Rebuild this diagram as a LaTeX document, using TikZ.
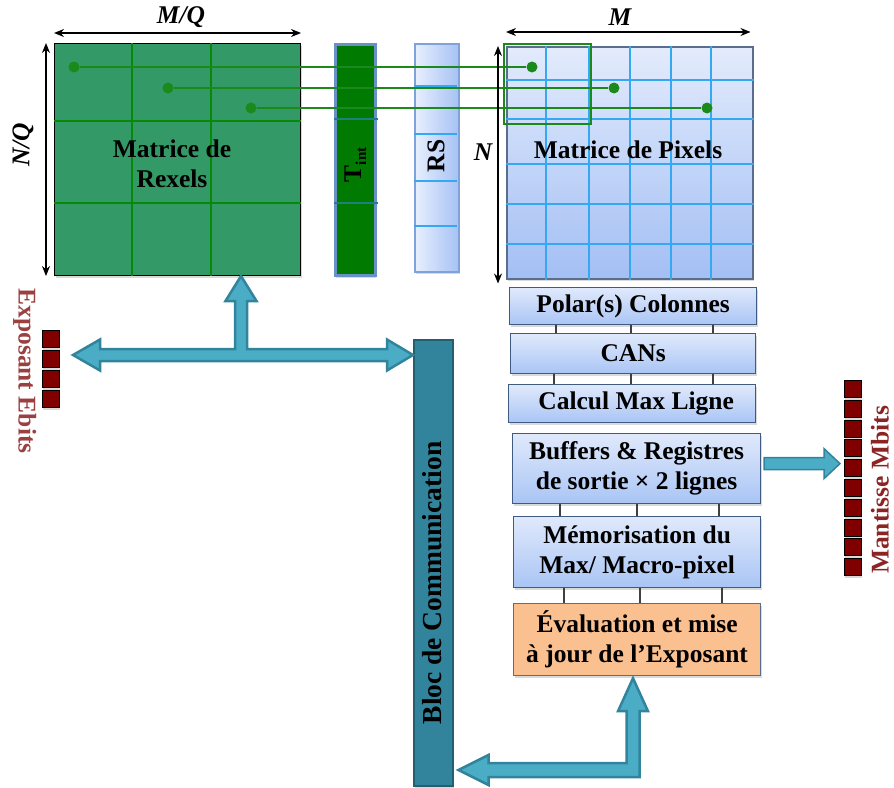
\documentclass[tikz,border=0pt]{standalone}
\usepackage{fontspec}
\setmainfont{Liberation Serif}
\usetikzlibrary{arrows.meta, calc, shadows}
\definecolor{rexGreen}{HTML}{339966}
\definecolor{gridGreen}{HTML}{068A06}
\definecolor{sigGreen}{HTML}{1B8A1B}
\definecolor{tintGreen}{HTML}{007A00}
\definecolor{tintEdge}{HTML}{6A90C8}
\definecolor{tealLine}{HTML}{1F8080}
\definecolor{rsLeft}{HTML}{E8EFFD}
\definecolor{rsRight}{HTML}{A6C2F4}
\definecolor{rsEdge}{HTML}{7FA3D9}
\definecolor{pixTop}{HTML}{E3EBFC}
\definecolor{pixBot}{HTML}{A3BFF4}
\definecolor{pixGrid}{HTML}{35A8F2}
\definecolor{pixEdge}{HTML}{5A6E8C}
\definecolor{boxTop}{HTML}{E0E9FB}
\definecolor{boxBot}{HTML}{A9C5F5}
\definecolor{boxEdge}{HTML}{3F5B82}
\definecolor{evalFill}{HTML}{FAC090}
\definecolor{blocFill}{HTML}{31849B}
\definecolor{blocEdge}{HTML}{23606F}
\definecolor{busFill}{HTML}{4BACC6}
\definecolor{busEdge}{HTML}{31849B}
\definecolor{bitRed}{HTML}{800000}
\definecolor{expoRed}{HTML}{9B4040}
\definecolor{mantRed}{HTML}{8B2525}

\begin{document}
\begin{tikzpicture}[x=1pt, y=-1pt,
  font=\fontsize{25.5}{30}\selectfont\bfseries,
  shad/.style={drop shadow={shadow xshift=1pt, shadow yshift=-2.5pt, opacity=0.3}},
  mat/.style={anchor=north west, inner sep=0pt, shad},
  blk/.style={mat, draw=boxEdge, line width=1.2pt, top color=boxTop, bottom color=boxBot,
              align=center},
  rexgrid/.style={draw=gridGreen, line width=2pt},
  pixgrid/.style={draw=pixGrid, line width=1.5pt},
  dimarrow/.style={{Stealth[length=10pt,width=8pt]}-{Stealth[length=10pt,width=8pt]},
                   line width=1.2pt},
  sig/.style={draw=sigGreen, line width=2.2pt},
  dot/.style={circle, fill=sigGreen, inner sep=0pt, minimum size=11pt},
  bitsq/.style={draw=black, line width=0.8pt, fill=bitRed, minimum size=17pt,
                inner sep=0pt, anchor=north west, shad},
  bus/.style={draw=busEdge, line width=2.5pt, fill=busFill, line join=miter},
  link/.style={draw=black!75, line width=1.2pt},
  lbl/.style={inner sep=0pt},
]
\useasboundingbox (0,0) rectangle (894,787);

% matrices and bars
\node[mat, draw=black, line width=1pt, fill=rexGreen, minimum width=246, minimum height=232] (rexels) at (54,43) {};
\foreach \x in {132,211} \draw[rexgrid] (\x,0 |- rexels.north) -- (\x,0 |- rexels.south);
\foreach \y in {121,203} \draw[rexgrid] (rexels.west |- 0,\y) -- (rexels.east |- 0,\y);
\node[lbl, align=center] at (172,164) {Matrice de\\Rexels};

\node[mat, draw=tintEdge, line width=2.5pt, fill=tintGreen, minimum width=40, minimum height=231] (tint) at (334,43) {};
\foreach \y in {119,203} \draw[draw=tealLine, line width=2pt] (tint.west |- 0,\y) -- ([xshift=1pt]tint.east |- 0,\y);
\node[lbl, rotate=90] at ([yshift=-5pt]tint.center) {T\raisebox{-5pt}{\fontsize{15}{15}\selectfont int}};

\node[mat, draw=rsEdge, line width=1.5pt, left color=rsLeft, right color=rsRight, minimum width=44, minimum height=228] (rs) at (414,43) {};
\foreach \y in {86,134,181,226} \draw[pixgrid, line width=1.2pt] (rs.west |- 0,\y) -- ([xshift=-3pt]rs.east |- 0,\y);
\node[lbl, rotate=90] at (436,156) {RS};

\node[mat, draw=pixEdge, line width=1.5pt, top color=pixTop, bottom color=pixBot, minimum width=246, minimum height=232] (pix) at (506,46) {};
\foreach \x in {546,589,630,671,711} \draw[pixgrid] (\x,0 |- pix.north) -- (\x,0 |- pix.south);
\foreach \y in {80,119,164,204,244} \draw[pixgrid] (pix.west |- 0,\y) -- (pix.east |- 0,\y);
\node[lbl] at (628,150) {Matrice de Pixels};
\node[anchor=north west, draw=sigGreen, line width=2pt, minimum width=87, minimum height=80, inner sep=0pt] (macro) at (503,43) {};

% rexel -> pixel links
\node[dot] (r1) at (74,67) {};
\node[dot] (r2) at (168,88) {};
\node[dot] (r3) at (251,108) {};
\node[dot] (p1) at (532,67) {};
\node[dot] (p2) at (614,88) {};
\node[dot] (p3) at (707,108) {};
\foreach \i in {1,2,3} \draw[sig] (r\i) -- (p\i);

% dimensions
\draw[dimarrow] ([yshift=10pt]rexels.north west) -- ([yshift=10pt]rexels.north east);
\draw[dimarrow] ([xshift=-8pt]rexels.north west) -- ([xshift=-8pt]rexels.south west);
\draw[dimarrow] ([yshift=14pt]pix.north west) -- ([shift={(-3pt,14pt)}]pix.north east);
\draw[dimarrow] ([xshift=-8pt]pix.north west) -- ([shift={(-8pt,-4pt)}]pix.south west);
\node[lbl] at (181,17) {\itshape M/Q};
\node[lbl] at (620,17) {\itshape M};
\node[lbl] at (483,152) {\itshape N};
\node[lbl, rotate=90] at (23,145) {\itshape N/Q};

% processing chain
\node[blk, minimum width=247, minimum height=37] (polar) at (509,287) {Polar(s) Colonnes};
\node[blk, minimum width=245, minimum height=40] (cans) at (510,333) {CANs};
\node[blk, minimum width=247, minimum height=38] (maxl) at (508,384) {\hspace{8pt}Calcul Max Ligne};
\node[blk, minimum width=248, minimum height=70] (buff) at (512,433) {Buffers \& Registres\\de sortie × 2 lignes};
\node[blk, minimum width=247, minimum height=71] (memo) at (513,516) {Mémorisation du\\Max/ Macro-pixel};
\node[mat, draw=pixEdge, line width=1.2pt, fill=evalFill, align=center, minimum width=247, minimum height=72] (evalx) at (513,603) {Évaluation et mise\\à jour de l’Exposant};

\foreach \x in {556,631,713} \draw[link] (\x,0 |- polar.south) -- (\x,0 |- cans.north);
\foreach \x in {554,631,713} \draw[link] (\x,0 |- cans.south) -- (\x,0 |- maxl.north);
\foreach \x in {560,637,719} \draw[link] (\x,0 |- buff.south) -- (\x,0 |- memo.north);
\foreach \x in {564,640,722} \draw[link] (\x,0 |- memo.south) -- (\x,0 |- evalx.north);

% communication block and buses
\node[mat, draw=blocEdge, line width=1.5pt, fill=blocFill, minimum width=39, minimum height=446] (bloc) at (413,339) {};
\node[lbl, rotate=90, font=\fontsize{27.5}{32}\selectfont\bfseries] at (432,583) {Bloc de Communication};

\coordinate (busW) at (73,355);
\coordinate (busN) at (rexels.south -| 241,0);
\coordinate (busE) at (bloc.west |- busW);
\coordinate (busC) at (busN |- busW);
\filldraw[bus] (busW) -- ++(27,-15.5) -- ++(0,9.5) -- ($(busC)+(-6,-6)$) -- ($(busN)+(-6,25)$)
  -- ($(busN)+(-15.5,25)$) -- (busN) -- ($(busN)+(15.5,25)$) -- ($(busN)+(6,25)$)
  -- ($(busC)+(6,-6)$) -- ($(busE)+(-26,-6)$) -- ($(busE)+(-26,-15.5)$) -- (busE)
  -- ($(busE)+(-26,15.5)$) -- ($(busE)+(-26,6)$) -- ($(busW)+(27,6)$) -- ++(0,9.5) -- cycle;

\coordinate (retN) at ([yshift=-2pt]evalx.south -| 633,0);
\coordinate (retW) at ([xshift=5pt]bloc.east |- 0,770);
\coordinate (retC) at (retN |- retW);
\filldraw[bus] (retW) -- ++(30,-15) -- ++(0,8) -- ($(retC)+(-6.5,-7)$) -- ($(retN)+(-6.5,33)$)
  -- ($(retN)+(-15,33)$) -- (retN) -- ($(retN)+(15,33)$) -- ($(retN)+(6.5,33)$)
  -- ($(retC)+(6.5,7)$) -- ($(retW)+(30,7)$) -- ++(0,8) -- cycle;

% output bits
\foreach \i in {1,...,4} \node[bitsq] (e\i) at (42,{330+(\i-1)*20}) {};
\foreach \i in {1,...,10} \node[bitsq] (m\i) at (844,{380+(\i-1)*19.8}) {};
\node[lbl, rotate=-90, anchor=south, text=expoRed] at (13,371) {Exposant Ebits};
\node[lbl, rotate=90, anchor=south, text=mantRed] at (889,490) {Mantisse Mbits};

\coordinate (manS) at ([shift={(3pt,5pt)}]buff.east);
\coordinate (manT) at ([xshift=-4pt]m5.west |- manS);
\filldraw[bus, line width=1.5pt] ($(manS)+(0,-6)$) -- ($(manT)+(-16,-6)$) -- ($(manT)+(-16,-15)$) -- (manT)
  -- ($(manT)+(-16,15)$) -- ($(manT)+(-16,6)$) -- ($(manS)+(0,6)$) -- cycle;
\end{tikzpicture}
\end{document}
